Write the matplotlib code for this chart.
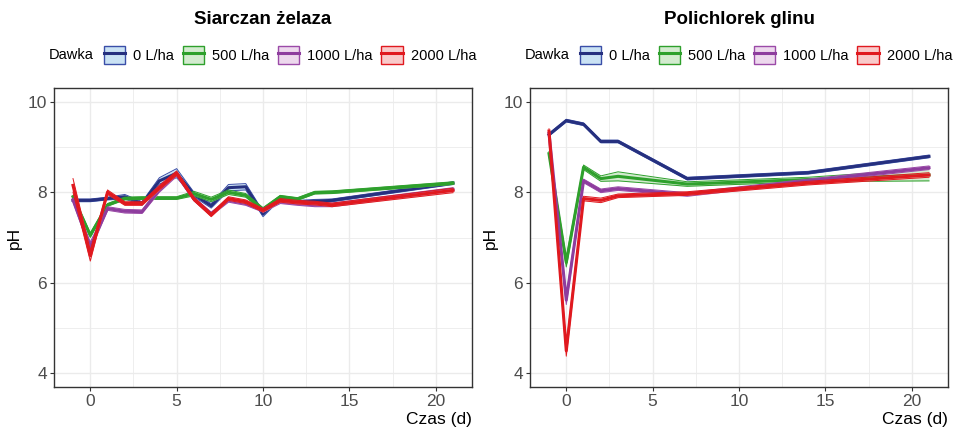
import matplotlib.pyplot as plt
from matplotlib.patches import Patch
from matplotlib.lines import Line2D
from matplotlib.legend_handler import HandlerTuple
from matplotlib.ticker import MultipleLocator
from matplotlib.colors import to_rgba

plt.rcParams['font.family'] = ['Liberation Sans', 'DejaVu Sans']

# --- data ---
doses = ["0 L/ha", "500 L/ha", "1000 L/ha", "2000 L/ha"]
panel_titles = ["Siarczan żelaza", "Polichlorek glinu"]

t_left = [-1, 0, 1, 2, 3, 4, 5, 6, 7, 8, 9, 10, 11, 12, 13, 14, 21]
left_0 = [7.82, 7.82, 7.86, 7.90, 7.75, 8.25, 8.42, 7.95, 7.70, 8.10, 8.12, 7.52, 7.88, 7.78, 7.80, 7.82, 8.20]
left_500 = [7.90, 7.05, 7.72, 7.86, 7.87, 7.87, 7.87, 7.97, 7.84, 8.00, 7.93, 7.62, 7.90, 7.85, 7.99, 8.00, 8.20]
left_1000 = [7.83, 6.80, 7.64, 7.58, 7.57, 8.05, 8.40, 7.85, 7.52, 7.82, 7.75, 7.60, 7.79, 7.75, 7.72, 7.72, 8.06]
left_2000 = [8.15, 6.60, 8.00, 7.75, 7.75, 8.10, 8.42, 7.85, 7.50, 7.86, 7.79, 7.60, 7.82, 7.78, 7.76, 7.72, 8.04]
# half-width of the shaded band
left_0_sd = [0.03, 0.03, 0.03, 0.05, 0.04, 0.07, 0.10, 0.05, 0.05, 0.07, 0.07, 0.06, 0.04, 0.04, 0.04, 0.03, 0.03]
left_500_sd = [0.03, 0.05, 0.03, 0.03, 0.03, 0.03, 0.03, 0.05, 0.05, 0.05, 0.04, 0.04, 0.03, 0.03, 0.03, 0.03, 0.03]
left_1000_sd = [0.04, 0.10, 0.04, 0.04, 0.04, 0.05, 0.05, 0.04, 0.04, 0.04, 0.04, 0.04, 0.04, 0.04, 0.04, 0.04, 0.04]
left_2000_sd = [0.15, 0.12, 0.05, 0.04, 0.04, 0.05, 0.05, 0.04, 0.04, 0.04, 0.04, 0.04, 0.04, 0.04, 0.04, 0.04, 0.05]

t_right = [-1, 0, 1, 2, 3, 7, 14, 21]
right_0 = [9.27, 9.58, 9.50, 9.12, 9.12, 8.30, 8.43, 8.79]
right_500 = [8.85, 6.45, 8.55, 8.30, 8.35, 8.18, 8.28, 8.38]
right_1000 = [9.30, 5.62, 8.25, 8.03, 8.08, 7.95, 8.25, 8.54]
right_2000 = [9.35, 4.50, 7.86, 7.82, 7.92, 7.97, 8.20, 8.38]
right_0_sd = [0.03, 0.03, 0.03, 0.03, 0.03, 0.03, 0.03, 0.03]
right_500_sd = [0.05, 0.10, 0.05, 0.06, 0.10, 0.05, 0.05, 0.13]
right_1000_sd = [0.04, 0.10, 0.04, 0.04, 0.04, 0.04, 0.04, 0.04]
right_2000_sd = [0.05, 0.12, 0.05, 0.05, 0.04, 0.04, 0.04, 0.05]

line_cols = ["#26307f", "#2ea02c", "#8e3d9e", "#e0191f"]
edge_cols = ["#3a4ea8", "#2ea02c", "#9b4aa8", "#e0191f"]
fill_cols = ["#a8d0ee", "#b6dfb0", "#e2bfe2", "#f6a8a8"]

panels = [
    (t_left, [left_0, left_500, left_1000, left_2000], [left_0_sd, left_500_sd, left_1000_sd, left_2000_sd]),
    (t_right, [right_0, right_500, right_1000, right_2000], [right_0_sd, right_500_sd, right_1000_sd, right_2000_sd]),
]

fig = plt.figure(figsize=(9.54, 4.3), dpi=100)
W, H = 954, 430
ax_left_px = [54, 530]

for i, (t, series, sds) in enumerate(panels):
    ax = fig.add_axes([ax_left_px[i] / W, 43 / H, 418 / W, 299 / H])
    for k in range(4):
        lo = [m - s for m, s in zip(series[k], sds[k])]
        hi = [m + s for m, s in zip(series[k], sds[k])]
        ax.fill_between(t, lo, hi, color=fill_cols[k], alpha=0.6, lw=0, zorder=2 + k)
        ax.plot(t, lo, color=edge_cols[k], lw=0.7, zorder=2 + k)
        ax.plot(t, hi, color=edge_cols[k], lw=0.7, zorder=2 + k)
        ax.plot(t, series[k], color=line_cols[k], lw=2.2, zorder=2.5 + k)

    ax.set_xlim(-2.1, 22.1)
    ax.set_ylim(3.7, 10.3)
    ax.xaxis.set_major_locator(MultipleLocator(5))
    ax.xaxis.set_minor_locator(MultipleLocator(2.5))
    ax.yaxis.set_major_locator(MultipleLocator(2))
    ax.yaxis.set_minor_locator(MultipleLocator(1))
    ax.grid(which='major', color='#ebebeb', lw=1.0, zorder=0)
    ax.grid(which='minor', color='#ebebeb', lw=0.6, zorder=0)
    ax.set_axisbelow(True)
    ax.tick_params(which='minor', length=0)
    ax.tick_params(which='major', length=3, width=0.8, color='#333333',
                   labelsize=12.5, labelcolor='#4d4d4d', pad=2)
    for sp in ax.spines.values():
        sp.set_color('#333333')
        sp.set_linewidth(1.0)

    ax.set_ylabel("pH", fontsize=12.5, labelpad=4)
    ax.set_xlabel("Czas (d)", fontsize=12.5, loc='right', labelpad=2)

    # panel title above the legend row
    fig.text((ax_left_px[i] + 209) / W, (H - 20) / H, panel_titles[i],
             fontsize=13.5, fontweight='bold', ha='center', va='center')

    handles = [
        (Patch(facecolor=to_rgba(fill_cols[k], 0.6), edgecolor=edge_cols[k], lw=1.0),
         Line2D([], [], color=line_cols[k], lw=2.2))
        for k in range(4)
    ]
    fig.text((ax_left_px[i] - 5) / W, (H - 55) / H, "Dawka", fontsize=10.5,
             va='center', ha='left')
    fig.legend(handles, doses, ncol=4, loc='center left',
               bbox_to_anchor=((ax_left_px[i] + 50) / W, (H - 55) / H),
               frameon=False, fontsize=10.5, borderpad=0, borderaxespad=0,
               handlelength=1.45, handleheight=1.5, handletextpad=0.55,
               columnspacing=0.6,
               handler_map={tuple: HandlerTuple(ndivide=1, pad=0)})

fig.savefig("out.png", dpi=100)
